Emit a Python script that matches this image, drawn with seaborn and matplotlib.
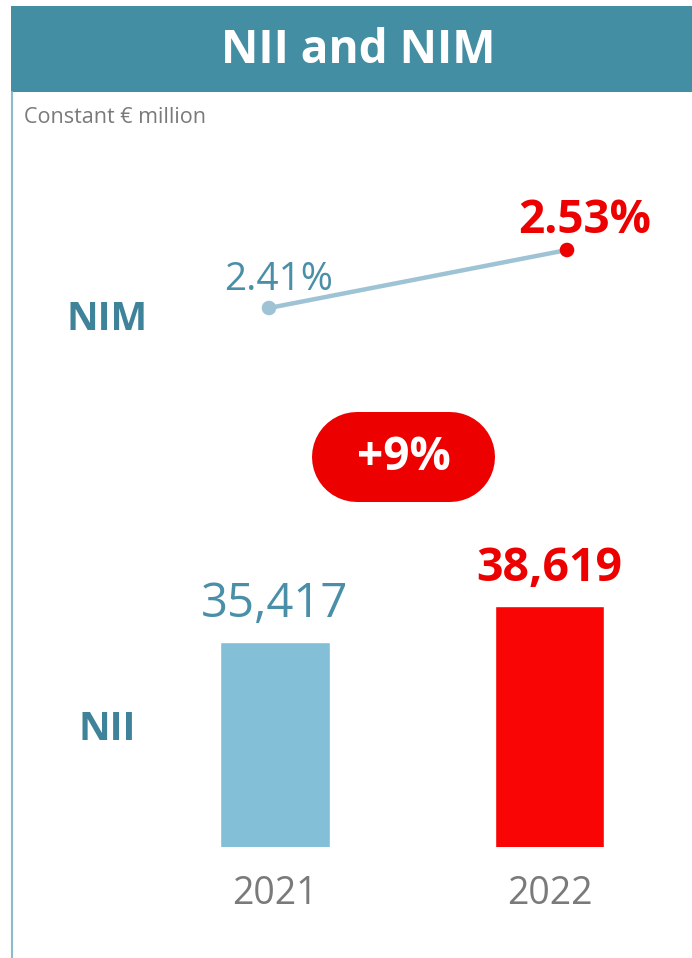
import pandas as pd
import seaborn as sns
import matplotlib.pyplot as plt
from matplotlib.patches import Rectangle

# data
years = ["2021", "2022"]
nii = [35417, 38619]
nim = [2.41, 2.53]
nii_labels = ["35,417", "38,619"]
nim_labels = ["2.41%", "2.53%"]
growth_label = "+9%"

TEAL = "#438ea2"
LIGHT_BLUE = "#83c0d7"
LINE_BLUE = "#9dc3d5"
RED = "#ec0000"
BAR_RED = "#fa0505"
GREY = "#7a7a7a"

sns.set_theme(style="white")
plt.rcParams["font.family"] = ["Open Sans", "DejaVu Sans"]

W, H = 692, 958
fig = plt.figure(figsize=(W / 100, H / 100), dpi=100)
fig.patch.set_facecolor("white")

# background layer in pixel units
bg = fig.add_axes([0, 0, 1, 1], zorder=0)
bg.set_xlim(0, W)
bg.set_ylim(H, 0)
bg.axis("off")
bg.add_patch(Rectangle((11, 6), W - 11, 86, color=TEAL, lw=0))
bg.plot([11.5, 11.5], [92, H], color="#8bbccb", lw=1.5)
bg.text(358, 50, "NII and NIM", color="white", fontsize=33, fontweight="bold",
        ha="center", va="center")
bg.text(24, 117, "Constant € million", color=GREY, fontsize=15.5, ha="left", va="center")
bg.text(107, 319, "NIM", color="#3e8399", fontsize=28, fontweight="bold",
        ha="center", va="center")
bg.text(107, 730, "NII", color="#3e8399", fontsize=28, fontweight="bold",
        ha="center", va="center")
# pill behind the growth figure: a thick line with round caps
bg.plot([357, 450], [457, 457], color=RED, lw=90 * 0.72, solid_capstyle="round")
bg.text(403.5, 457, growth_label, color="white", fontsize=33, fontweight="bold",
        ha="center", va="center")

# NII bars
df = pd.DataFrame({"year": years, "nii": nii})
base = 17000
scale = 0.01115  # px per € million
ax = fig.add_axes([0, 1 - 847 / H, 1, 317 / H], zorder=1)
ax.patch.set_alpha(0)
sns.barplot(data=df, x="year", y="nii", hue="year",
            palette={"2021": LIGHT_BLUE, "2022": BAR_RED},
            width=0.4, saturation=1, legend=False, ax=ax)
ax.set_xlim(-275 / 274.5, (W - 275) / 274.5)
ax.set_ylim(base, base + 317 / scale)
for i, (v, lab) in enumerate(zip(nii, nii_labels)):
    if i == 0:
        ax.annotate(lab, (i, v), xytext=(0, 18), textcoords="offset points",
                    ha="center", va="baseline", fontsize=34, color="#4a8fa8")
    else:
        ax.annotate(lab, (i, v), xytext=(0, 18), textcoords="offset points",
                    ha="center", va="baseline", fontsize=33.5, color=RED,
                    fontweight="bold")
ax.set_xlabel("")
ax.set_ylabel("")
ax.set_yticks([])
ax.tick_params(axis="x", length=0, pad=20, labelsize=27, labelcolor=GREY)
sns.despine(ax=ax, left=True, bottom=True)

# NIM line
nf = pd.DataFrame({"x": [0, 1], "nim": nim, "year": years})
lx = fig.add_axes([0, 1 - 340 / H, 1, 160 / H], zorder=2)
lx.patch.set_alpha(0)
sns.lineplot(data=nf, x="x", y="nim", color=LINE_BLUE, lw=3.2, ax=lx)
sns.scatterplot(data=nf, x="x", y="nim", hue="year",
                palette={"2021": LINE_BLUE, "2022": RED},
                s=110, edgecolor="none", legend=False, ax=lx, zorder=3)
lx.set_xlim(-269 / 298, (W - 269) / 298)
lx.set_ylim(2.41 - 32 / 483.3, 2.41 + 128 / 483.3)
lx.annotate(nim_labels[0], (0, nim[0]), xytext=(7, 13), textcoords="offset points",
            ha="center", va="baseline", fontsize=28, color="#4a8fa8")
lx.annotate(nim_labels[1], (1, nim[1]), xytext=(13, 12), textcoords="offset points",
            ha="center", va="baseline", fontsize=33, color=RED, fontweight="bold")
lx.axis("off")

fig.savefig("out.png", dpi=100)
